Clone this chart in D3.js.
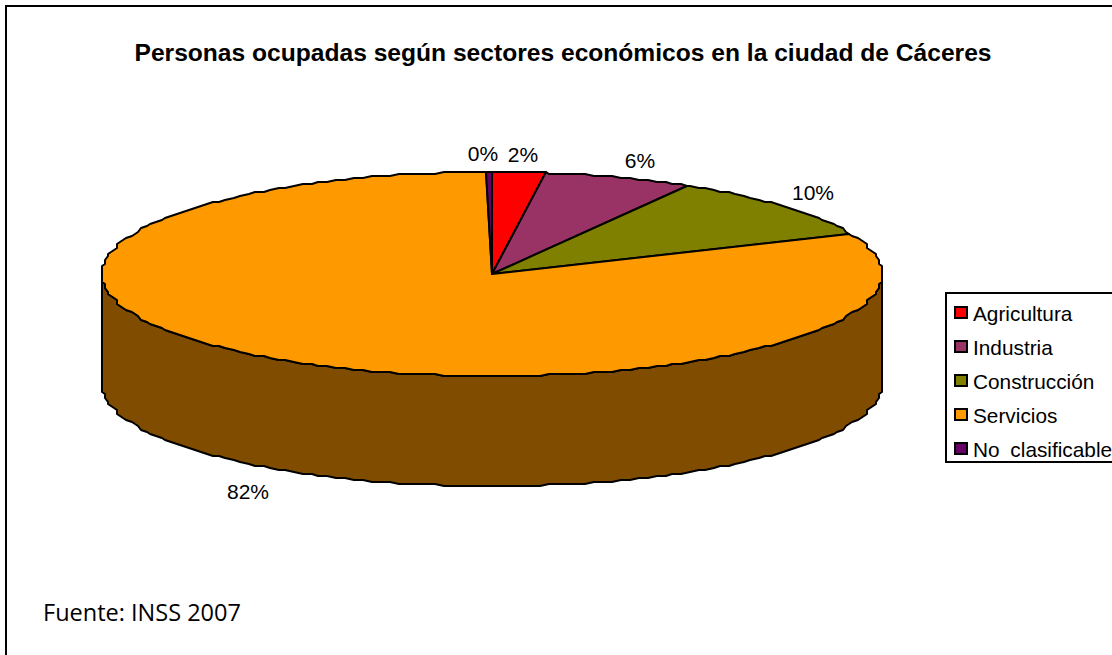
<!DOCTYPE html>
<html><head><meta charset="utf-8">
<script src="https://cdn.jsdelivr.net/npm/d3@7"></script>
<style>html,body{margin:0;padding:0;background:#fff;overflow:hidden}svg{display:block}text{fill:#000;font-family:"Liberation Sans",Arial,sans-serif}</style>
</head><body><svg id="c" width="1112" height="655"></svg>
<script>
const titleText = "Personas ocupadas según sectores económicos en la ciudad de Cáceres";
const sourceText = "Fuente: INSS 2007";
const categories = ["Agricultura","Industria","Construcción","Servicios","No clasificable"];
const values = [2.2, 6.1, 10.3, 81.5, 0.3];
const colors = ["#ff0000","#993366","#808000","#ff9900","#660066"];
const sideColor = "#804c00";

const svg = d3.select("#c");
const W = 1112, H = 655, depth = 110;
const sx = d3.scaleLinear().domain([-1,1]).range([102,882]);
const sy = d3.scaleLinear().domain([-1,1]).range([376,172]);
const pie = d3.pie().sort(null).value(d=>d)(values);
const STEP = Math.PI*2/260;
const pt = (a,dy=0)=>[Math.round(sx(Math.sin(a))/3)*3, Math.round(sy(Math.cos(a))/2)*2+dy];
// polygonal rim on a shared angular grid, so slices and wall share their edge
function arcPts(a0,a1,dy=0){
  const inner = d3.range(Math.ceil(a0/STEP+1e-6), Math.floor(a1/STEP-1e-6)+1).map(k=>k*STEP);
  return [a0,...inner,a1].map(a=>pt(a,dy));
}
const line = d3.line();
svg.append("rect").attr("x",6).attr("y",6).attr("width",W+20).attr("height",H+20).attr("fill","#fff").attr("stroke","#000").attr("stroke-width",2);

// side wall: visible lower half of the rim
const wallTop = arcPts(Math.PI/2,Math.PI*1.5);
const wall = wallTop.concat(wallTop.slice().reverse().map(p=>[p[0],p[1]+depth]));
svg.append("path").attr("d",line(wall)+"Z").attr("fill",sideColor).attr("stroke","#000").attr("stroke-width",2).attr("stroke-linejoin","round");

// top slices
const cx = sx(0), cy = sy(0);
svg.selectAll("path.s").data(pie).join("path").attr("class","s")
  .attr("d",d=>line([[cx,cy],...arcPts(d.startAngle,d.endAngle)])+"Z")
  .attr("fill",(d,i)=>colors[i]).attr("stroke","#000").attr("stroke-width",2).attr("stroke-linejoin","round");

// percent labels
const labelPos = [[523,154],[640,160],[813,192],[248,491],[483,153]];
svg.selectAll("text.p").data(pie).join("text").attr("class","p")
  .attr("x",(d,i)=>labelPos[i][0]).attr("y",(d,i)=>labelPos[i][1]).attr("dy","0.36em")
  .attr("text-anchor","middle").attr("font-size",21)
  .text(d=>Math.round(d.value)+"%");

svg.append("text").attr("x",563).attr("y",61).attr("text-anchor","middle").attr("font-size",24.6).attr("font-weight","bold").text(titleText);
svg.append("text").attr("x",43).attr("y",621).attr("font-size",23.5).style("font-family","'Open Sans'").text(sourceText);

// legend
svg.append("rect").attr("x",946).attr("y",293).attr("width",200).attr("height",169).attr("fill","#fff").attr("stroke","#000").attr("stroke-width",2);
const ly = d3.scalePoint().domain(categories).range([313,449]);
const g = svg.selectAll("g.l").data(categories).join("g").attr("class","l").attr("transform",d=>`translate(0,${ly(d)})`);
g.append("rect").attr("x",955).attr("y",-6).attr("width",12).attr("height",11).attr("fill",(d,i)=>colors[i]).attr("stroke","#000").attr("stroke-width",2);
g.append("text").attr("x",973).attr("y",0).attr("dy","0.36em").attr("font-size",20.8).attr("word-spacing",5).text(d=>d);
</script></body></html>
